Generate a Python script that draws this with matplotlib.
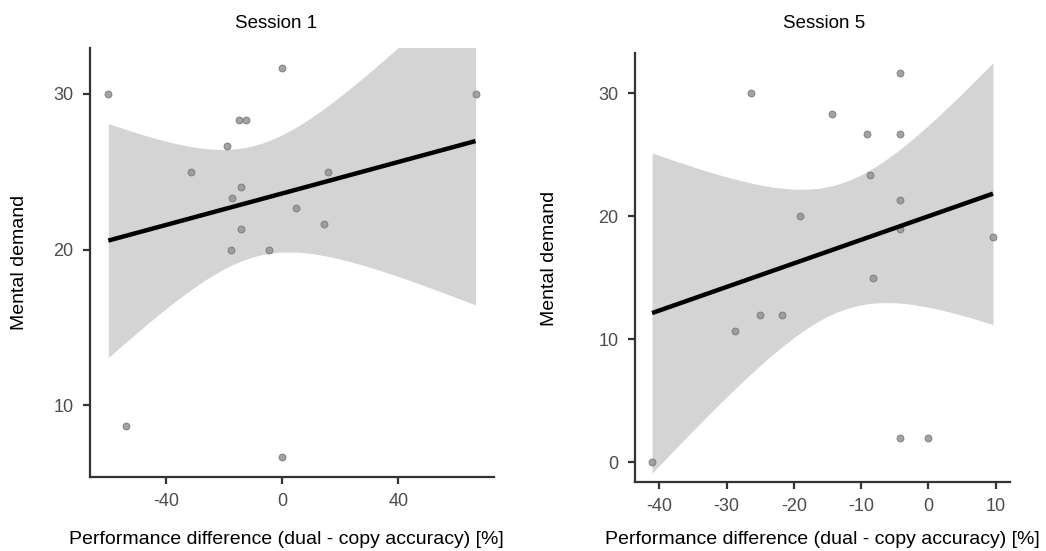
import numpy as np
import matplotlib
matplotlib.use("Agg")
import matplotlib.pyplot as plt

plt.rcParams['font.family'] = ['Liberation Sans', 'DejaVu Sans']
plt.rcParams['axes.unicode_minus'] = False

# Session 1: performance difference (x) vs mental demand (y)
s1_perf = [-60.0, 0.0, -14.9, -12.4, -19.0, -31.6, 15.8, -14.2, -17.4, 4.8,
           14.3, -14.2, -17.6, -4.5, 66.6, -53.8, 0.0]
s1_mental = [30.0, 31.67, 28.33, 28.33, 26.67, 25.0, 25.0, 24.0, 23.33, 22.67,
             21.67, 21.33, 20.0, 20.0, 30.0, 8.67, 6.67]

# Session 5
s5_perf = [-41.1, -26.4, -4.3, -14.3, -9.1, -4.2, -8.7, -4.3, -19.1, -4.2,
           9.6, -8.3, -25.1, -21.8, -28.7, -4.2, 0.0]
s5_mental = [0.0, 30.0, 31.67, 28.33, 26.67, 26.67, 23.33, 21.33, 20.0, 19.0,
             18.33, 15.0, 12.0, 12.0, 10.67, 2.0, 2.0]

titles = ["Session 1", "Session 5"]
xticks = [[-40, 0, 40], [-40, -30, -20, -10, 0, 10]]
yticks = [[10, 20, 30], [0, 10, 20, 30]]
xlab = "Performance difference (dual - copy accuracy) [%]"
ylab = "Mental demand"

# two-sided 95% t quantiles
t975 = {14: 2.1448, 15: 2.1314, 16: 2.1199}


def lm_band(x, y, n=80):
    x = np.asarray(x)
    y = np.asarray(y)
    b, a = np.polyfit(x, y, 1)
    xs = np.linspace(x.min(), x.max(), n)
    fit = a + b * xs
    df = len(x) - 2
    s = np.sqrt(np.sum((y - (a + b * x)) ** 2) / df)
    se = s * np.sqrt(1 / len(x) + (xs - x.mean()) ** 2 / np.sum((x - x.mean()) ** 2))
    t = t975[df]
    return xs, fit, fit - t * se, fit + t * se


def expand(v):
    lo, hi = min(v), max(v)
    pad = 0.05 * (hi - lo)
    return lo - pad, hi + pad


W, H = 1046, 551
fig = plt.figure(figsize=(W / 100, H / 100), dpi=100)
positions = [[0.0860, 0.1348, 0.3862, 0.7775], [0.6071, 0.1258, 0.3585, 0.7775]]
title_x = [276.5, 824]
xlab_x = [286, 822]
ylab_x = [20, 549]
ylab_y = [262, 258]
data = [(s1_perf, s1_mental), (s5_perf, s5_mental)]

for i in range(2):
    x, y = data[i]
    ax = fig.add_axes(positions[i])
    xs, fit, lo, hi = lm_band(x, y)
    ax.fill_between(xs, lo, hi, color='#d4d4d4', lw=0, zorder=1)
    ax.scatter(x, y, s=24, color='#999999', edgecolor='#777777', linewidth=0.7,
               alpha=0.9, zorder=2)
    ax.plot(xs, fit, color='black', lw=3.2, zorder=3, solid_capstyle='butt')
    ax.set_xlim(expand(x))
    ax.set_ylim(expand(y))
    ax.set_xticks(xticks[i])
    ax.set_yticks(yticks[i])
    for side in ['top', 'right']:
        ax.spines[side].set_visible(False)
    for side in ['left', 'bottom']:
        ax.spines[side].set_color('#333333')
        ax.spines[side].set_linewidth(1.6)
    ax.tick_params(length=5, width=1.6, color='#333333', labelcolor='#4d4d4d',
                   labelsize=13, pad=7)
    fig.text(title_x[i] / W, 1 - 27.5 / H, titles[i], fontsize=13.5,
             ha='center', va='baseline')
    fig.text(xlab_x[i] / W, 1 - 539 / H, xlab, fontsize=14, ha='center', va='center')
    fig.text(ylab_x[i] / W, 1 - ylab_y[i] / H, ylab, fontsize=14, ha='center',
             va='center', rotation=90)

fig.savefig("out.png", dpi=100)
